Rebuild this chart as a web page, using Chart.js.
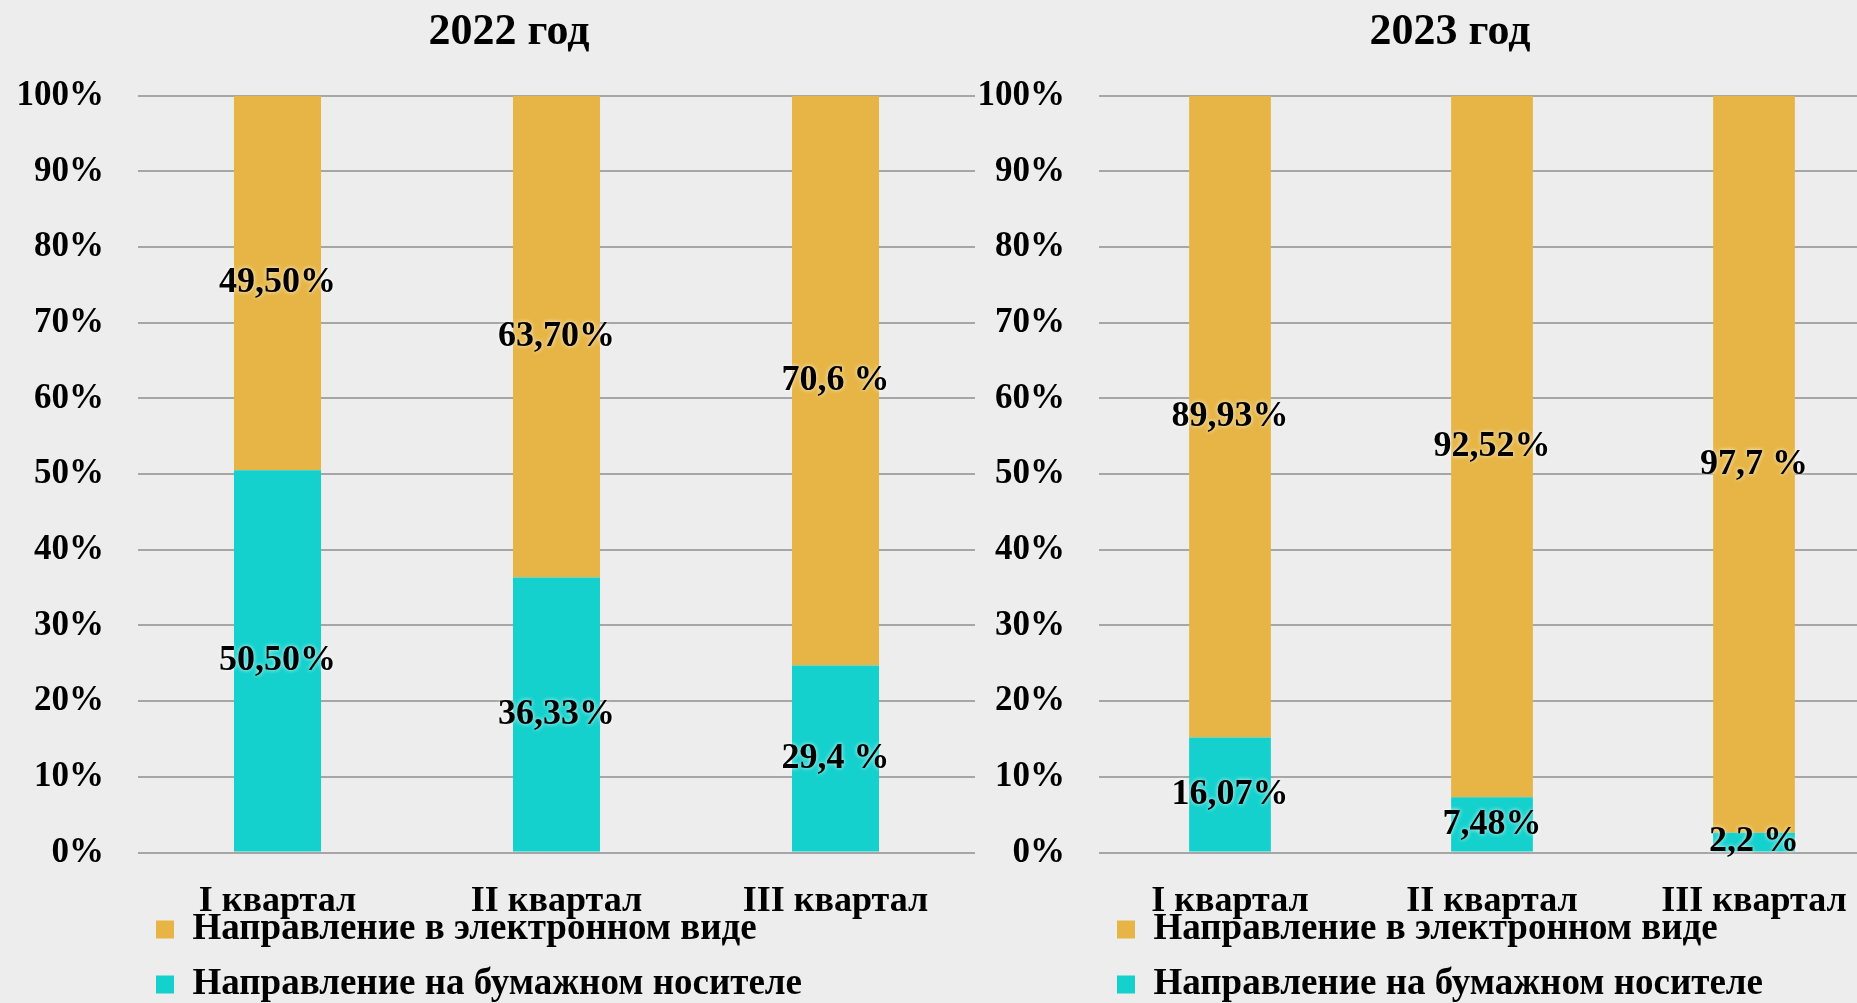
<!DOCTYPE html>
<html>
<head>
<meta charset="utf-8">
<script src="https://cdn.jsdelivr.net/npm/chart.js@4.4.0/dist/chart.umd.min.js"></script>
<style>
    body { margin: 0; background: #ededed; overflow: hidden; width: 1857px; height: 1003px; }
    .box { position: absolute; top: 0; height: 1013px; }
    #left { left: 0; width: 1018px; }
    #right { left: 975px; width: 950px; }
</style>
</head>
<body>
<div class="box" id="left"><canvas id="chart2022"></canvas></div>
<div class="box" id="right"><canvas id="chart2023"></canvas></div>
<script>
const quarters = ["I квартал", "II квартал", "III квартал"];

// 2022
const paper2022 = [50.5, 36.33, 24.7];
const electronic2022 = [49.5, 63.67, 75.3];
const paperLabels2022 = ["50,50%", "36,33%", "29,4 %"];
const electronicLabels2022 = ["49,50%", "63,70%", "70,6 %"];

// 2023
const paper2023 = [15.2, 7.3, 2.6];
const electronic2023 = [84.8, 92.7, 97.4];
const paperLabels2023 = ["16,07%", "7,48%", "2,2 %"];
const electronicLabels2023 = ["89,93%", "92,52%", "97,7 %"];

const seriesNames = ["Направление на бумажном носителе", "Направление в электронном виде"];
const orange = "#e6b545";
const teal = "#14d1cd";
const serif = '"Liberation Serif", "Times New Roman", serif';

// text in the middle of every bar piece
const barLabels = {
    id: 'barLabels',
    afterDatasetsDraw(chart) {
        const ctx = chart.ctx;
        ctx.save();
        ctx.font = 'bold 36px ' + serif;
        ctx.textAlign = 'center';
        ctx.textBaseline = 'middle';
        ctx.fillStyle = '#000';
        ctx.shadowColor = 'rgba(255,255,255,0.9)';
        ctx.shadowBlur = 4;
        chart.data.datasets.forEach((ds, i) => {
            chart.getDatasetMeta(i).data.forEach((bar, j) => {
                ctx.fillText(ds.valueLabels[j], bar.x, (bar.y + bar.base) / 2);
            });
        });
        ctx.restore();
    }
};

function makeChart(id, title, paper, electronic, paperLabels, electronicLabels, axisWidth, rightGap) {
    new Chart(document.getElementById(id), {
        type: "bar",
        data: {
            labels: quarters,
            datasets: [
                {
                    label: seriesNames[0],
                    data: paper,
                    valueLabels: paperLabels,
                    backgroundColor: teal,
                    borderWidth: 0
                },
                {
                    label: seriesNames[1],
                    data: electronic,
                    valueLabels: electronicLabels,
                    backgroundColor: orange,
                    borderWidth: 0
                }
            ]
        },
        options: {
            responsive: true,
            maintainAspectRatio: false,
            animation: false,
            categoryPercentage: 0.8,
            barPercentage: 0.39,
            plugins: {
                title: {
                    display: true,
                    text: title,
                    color: "#000",
                    font: { family: serif, size: 44, weight: "bold" },
                    padding: { top: 6, bottom: 37 }
                },
                legend: {
                    position: "bottom",
                    align: "start",
                    fullSize: false,
                    reverse: true,
                    // empty title just makes room for the quarter labels above the rows
                    title: {
                        display: true,
                        text: "",
                        font: { size: 1, lineHeight: 1 },
                        padding: { top: 39.5, bottom: 0 }
                    },
                    labels: {
                        color: "#000",
                        font: { family: serif, size: 37, weight: "bold" },
                        boxWidth: 18,
                        boxHeight: 18,
                        padding: 18
                    }
                },
                tooltip: { enabled: false }
            },
            scales: {
                x: {
                    stacked: true,
                    grid: { display: false, drawTicks: false },
                    border: { display: false },
                    ticks: {
                        color: "#000",
                        // mirrored ticks take no room; the empty first line pushes the text below the axis
                        mirror: true,
                        padding: 0,
                        font: { family: serif, size: 36, weight: "bold", lineHeight: "98px" },
                        callback: function (v) { return ["", this.getLabelForValue(v)]; }
                    }
                },
                y: {
                    stacked: true,
                    min: 0,
                    max: 100,
                    grid: { color: "#a6a6a6", lineWidth: 2, drawTicks: false },
                    border: { display: false },
                    ticks: {
                        stepSize: 10,
                        color: "#000",
                        padding: 34,
                        font: { family: serif, size: 35, weight: "bold" },
                        callback: v => v + "%"
                    },
                    afterFit: s => { s.width = axisWidth; }
                },
                gap: {
                    position: "right",
                    grid: { display: false, drawTicks: false },
                    border: { display: false },
                    ticks: { display: false },
                    afterFit: s => { s.width = rightGap; }
                }
            }
        },
        plugins: [barLabels]
    });
}

makeChart("chart2022", "2022 год", paper2022, electronic2022, paperLabels2022, electronicLabels2022, 138, 43);
makeChart("chart2023", "2023 год", paper2023, electronic2023, paperLabels2023, electronicLabels2023, 124, 40);
</script>
</body>
</html>
